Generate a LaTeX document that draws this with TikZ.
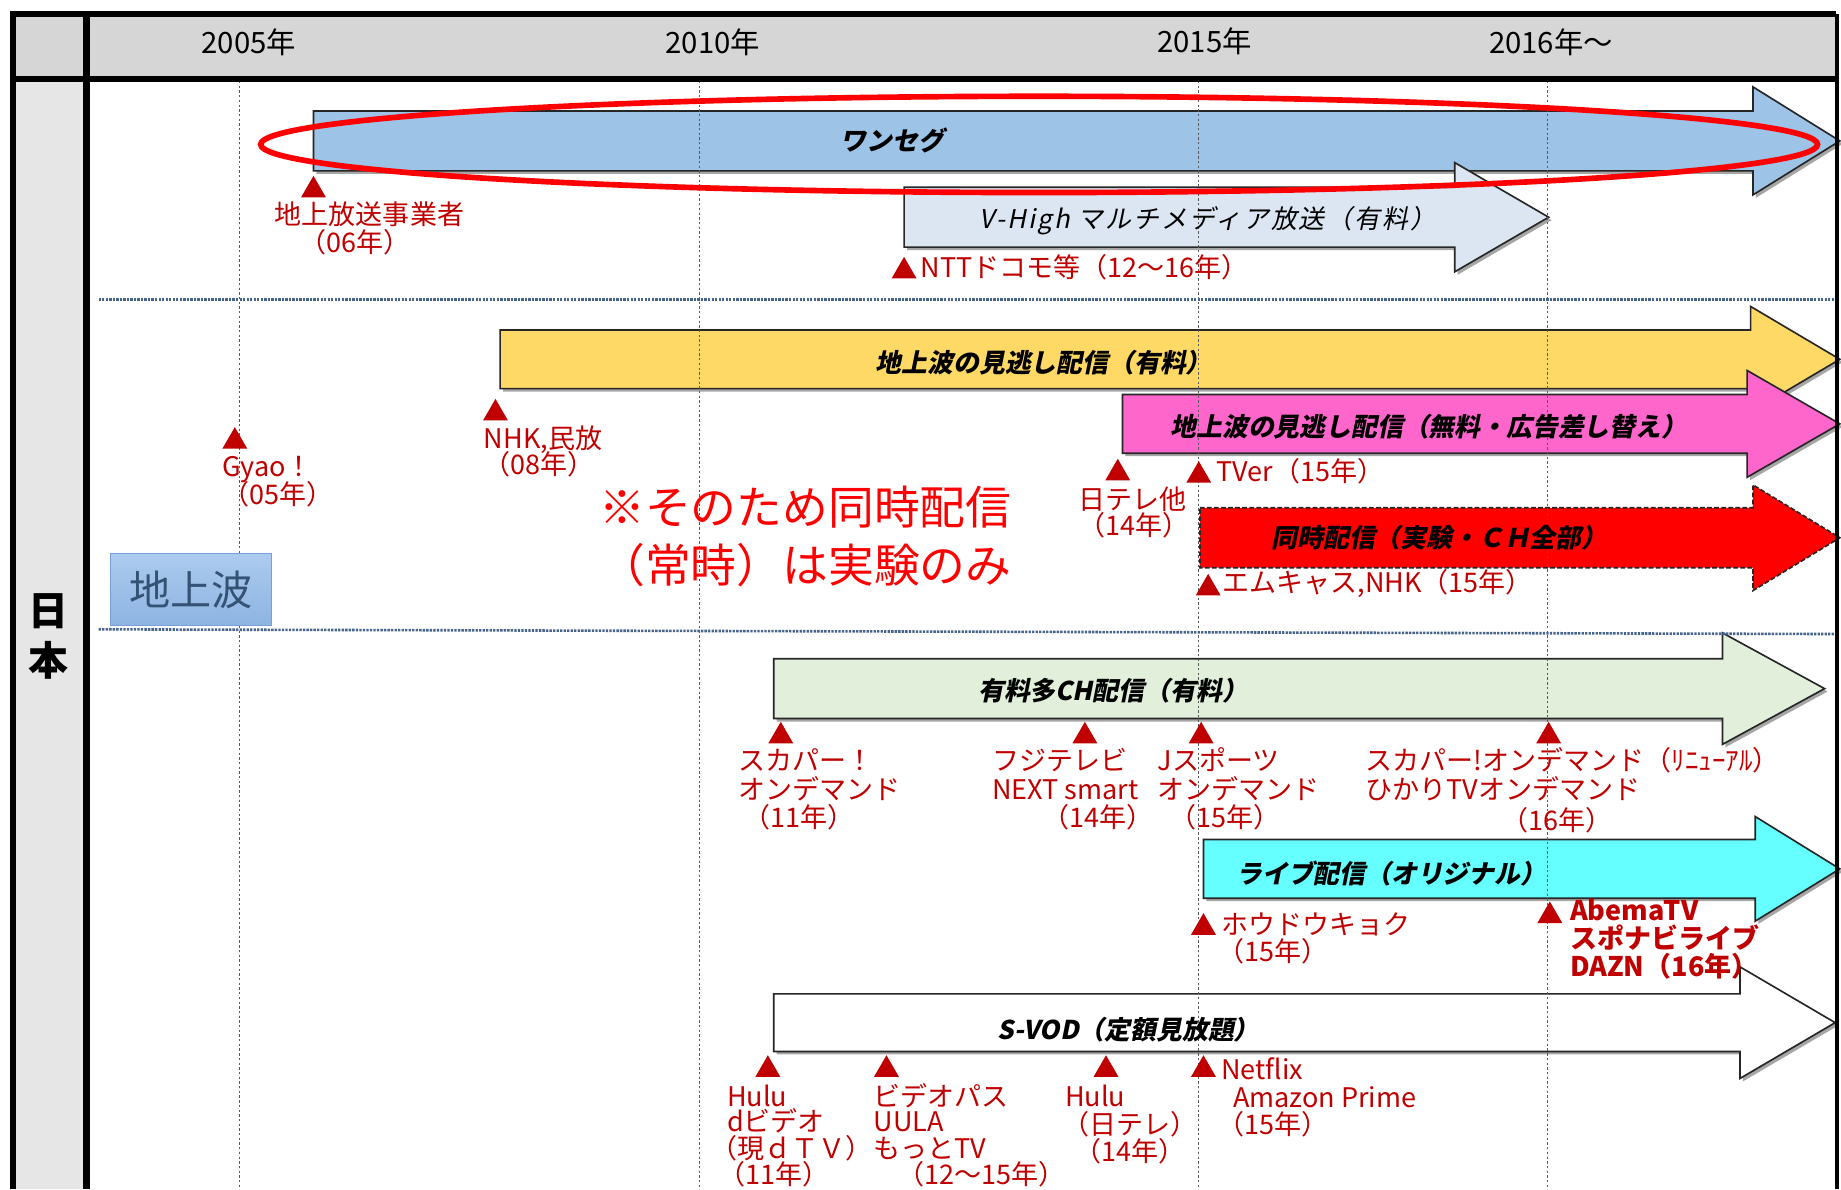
\documentclass[tikz,border=0pt]{standalone}
\usepackage{fontspec}
\setmainfont{Noto Sans CJK JP}
\newfontfamily\jpsl[FakeSlant=0.2]{Noto Sans CJK JP}
\usetikzlibrary{shapes.geometric}
\definecolor{lred}{RGB}{192,0,0}
\definecolor{hdr}{RGB}{214,214,214}
\definecolor{lcol}{RGB}{230,230,230}
\definecolor{cOne}{RGB}{157,195,230}
\definecolor{cVH}{RGB}{220,230,242}
\definecolor{cYel}{RGB}{255,217,102}
\definecolor{cPink}{RGB}{255,102,204}
\definecolor{cRed}{RGB}{255,0,0}
\definecolor{cGrn}{RGB}{226,239,218}
\definecolor{cCyan}{RGB}{102,255,255}
\definecolor{sepc}{RGB}{70,100,140}
\definecolor{boxtop}{RGB}{172,203,238}
\definecolor{boxbot}{RGB}{141,180,226}
\definecolor{boxbd}{RGB}{120,160,215}
\definecolor{boxtxt}{RGB}{52,82,115}
\newcommand\tlarrow[7]{%
  \begin{scope}[shift={(2.5,2.5)}]
    \fill[black!35] (#2,{#5-#6}) -- (#3,{#5-#6}) -- (#3,{#5-#7}) -- (#4,#5) -- (#3,{#5+#7}) -- (#3,{#5+#6}) -- (#2,{#5+#6}) -- cycle;
  \end{scope}
  \draw[arrbox,#1] (#2,{#5-#6}) -- (#3,{#5-#6}) -- (#3,{#5-#7}) -- (#4,#5) -- (#3,{#5+#7}) -- (#3,{#5+#6}) -- (#2,{#5+#6}) -- cycle;}
\tikzset{
  arrbox/.style={draw=black!85, line width=1.4pt, line join=miter},
  lab/.style={anchor=west, inner sep=0, text=lred, font=\fontsize{23}{25}\selectfont, text height=1.4em, text depth=0pt},
  labb/.style={lab, font=\bfseries\fontsize{23}{25}\selectfont},
  atext/.style={inner sep=0, font=\jpsl\bfseries\fontsize{22}{24}\selectfont},
  yr/.style={inner sep=0, font=\fontsize{25}{27}\selectfont},
  mk/.style={regular polygon, regular polygon sides=3, fill=lred, inner sep=0, minimum size=24.5pt},
  vdot/.style={black!65, line width=1pt, dash pattern=on 2pt off 2pt},
  hsep/.style={sepc, line width=2.2pt, dash pattern=on 2pt off 1pt},
}
\begin{document}
\begin{tikzpicture}[x=1pt,y=-1pt]
\useasboundingbox (0,0) rectangle (1568,1013);
\fill[white] (0,0) rectangle (1568,1013);
% table frame
\fill[hdr] (11,12) rectangle (1564,67);
\fill[lcol] (11,67) rectangle (73.5,1013);
% arrows
\tlarrow{fill=cOne}{267}{1493}{1567}{120}{25.5}{46}
\tlarrow{fill=cVH}{770}{1239}{1319}{185}{25.5}{46.5}
\tlarrow{fill=cYel}{426}{1491}{1567}{306}{25}{45}
\tlarrow{fill=cPink}{956}{1488}{1567}{361}{25}{45.5}
\draw[arrbox,fill=cRed,dash pattern=on 4pt off 2pt] (1022,432.5) -- (1493,432.5) -- (1493,413) -- (1567,458) -- (1493,503) -- (1493,483.5) -- (1022,483.5) -- cycle;
\tlarrow{fill=cGrn}{659}{1467}{1554}{586.5}{25.5}{47.5}
\tlarrow{fill=cCyan}{1025}{1495}{1567}{740}{25}{44.5}
\tlarrow{fill=white}{659}{1482}{1563}{871}{24.5}{47.5}
% grid lines
\foreach \gx in {204,596,1021,1318} \draw[vdot] (\gx,69) -- (\gx,1013);
\draw[hsep] (84,255) -- (1563,255);
\draw[hsep] (84,536) -- (1563,540);
% frame lines
\draw[line width=5pt] (11,1013) -- (11,12) -- (1564,12);
\draw[line width=4pt] (1564.5,12) -- (1564.5,1013);
\draw[line width=5.5pt] (11,67.5) -- (1564,67.5);
\draw[line width=5.5pt] (73.5,12) -- (73.5,1013);
% header
\node[yr] (y05) at (212,36) {2005年};
\node[yr] (y10) at (607,36) {2010年};
\node[yr] (y15) at (1026,35) {2015年};
\node[yr] (y16) at (1321,36) {2016年〜};
\node[inner sep=0, align=center, font=\bfseries\fontsize{34}{42}\selectfont] (jp) at (41,542) {日\\本};
% terrestrial box
\node[draw=boxbd, line width=1pt, top color=boxtop, bottom color=boxbot, minimum width=137pt, minimum height=61pt, inner sep=0, text=boxtxt, font=\fontsize{35}{37}\selectfont] (box) at (162.5,502) {地上波};
% arrow texts
\node[atext] (tOne) at (760,120) {ワンセグ};
\node[inner sep=0, font=\jpsl\fontsize{22}{24}\selectfont\addfontfeature{LetterSpace=8}] (tVH) at (1029,188) {V-High マルチメディア放送（有料）};
\node[atext] (tYel) at (889,309) {地上波の見逃し配信（有料）};
\node[atext] (tPink) at (1217,363) {地上波の見逃し配信（無料・広告差し替え）};
\node[atext] (tRed) at (1226,458) {同時配信（実験・ＣＨ全部）};
\node[atext] (tGrn) at (948,588) {有料多CH配信（有料）};
\node[atext] (tCyan) at (1185,744) {ライブ配信（オリジナル）};
\node[atext] (tSV) at (961,877) {S-VOD（定額見放題）};
% red ellipse
\draw[cRed, line width=4.8pt] (885,123) ellipse [x radius=663, y radius=41];
% note
\node[inner sep=0, align=center, text=cRed, font=\fontsize{39}{50}\selectfont] (note) at (686,457) {※そのため同時配信\\（常時）は実験のみ};
% markers
\node[mk] (m1) at (267,162) {};
\node[mk] (m2) at (770,231) {};
\node[mk] (m3) at (200,376) {};
\node[mk] (m4) at (422,352) {};
\node[mk] (m5) at (952,403) {};
\node[mk] (m6) at (1021,405) {};
\node[mk] (m7) at (1029,501) {};
\node[mk] (m8) at (665,627) {};
\node[mk] (m9) at (924,627) {};
\node[mk] (m10) at (1023,627) {};
\node[mk] (m11) at (1319,627) {};
\node[mk] (m12) at (1025,790) {};
\node[mk] (m13) at (1320,780) {};
\node[mk] (m14) at (654,911) {};
\node[mk] (m15) at (755,911) {};
\node[mk] (m16) at (942,911) {};
\node[mk] (m17) at (1025,911) {};
% labels
\node[lab] (l1a) at (234,184) {地上放送事業者};
\node[lab] (l1b) at (255,208) {（06年）};
\node[lab] (l2) at (784,229) {NTTドコモ等（12〜16年）};
\node[lab] (l3a) at (189,399) {Gyao！};
\node[lab] (l3b) at (189,423) {（05年）};
\node[lab] (l4a) at (412,375) {NHK,民放};
\node[lab] (l4b) at (412,397) {（08年）};
\node[lab] (l5a) at (918,427) {日テレ他};
\node[lab] (l5b) at (918,449) {（14年）};
\node[lab] (l6) at (1036,403) {TVer（15年）};
\node[lab] (l7) at (1041,498) {エムキャス,NHK（15年）};
\node[lab] (l8a) at (629,649) {スカパー！};
\node[lab] (l8b) at (629,674) {オンデマンド};
\node[lab] (l8c) at (633,698) {（11年）};
\node[lab] (l9a) at (845,649) {フジテレビ};
\node[lab] (l9b) at (845,674) {NEXT smart};
\node[lab] (l9c) at (888,698) {（14年）};
\node[lab] (l10a) at (986,649) {Jスポーツ};
\node[lab] (l10b) at (986,674) {オンデマンド};
\node[lab] (l10c) at (996,698) {（15年）};
\node[lab] (l11a) at (1163,649) {スカパー!オンデマンド（ﾘﾆｭｰｱﾙ）};
\node[lab] (l11b) at (1163,674) {ひかりTVオンデマンド};
\node[lab] (l11c) at (1279,700) {（16年）};
\node[lab] (l12a) at (1040,789) {ホウドウキョク};
\node[lab] (l12b) at (1037,812) {（15年）};
\node[labb] (l13a) at (1337,777) {AbemaTV};
\node[labb] (l13b) at (1337,801) {スポナビライブ};
\node[labb] (l13c) at (1337,825) {DAZN（16年）};
\node[lab] (l14a) at (619,935) {Hulu};
\node[lab] (l14b) at (619,957) {dビデオ};
\node[lab] (l14c) at (605,980) {（現ｄＴＶ）};
\node[lab] (l14d) at (612,1002) {（11年）};
\node[lab] (l15a) at (744,935) {ビデオパス};
\node[lab] (l15b) at (744,957) {UULA};
\node[lab] (l15c) at (744,980) {もっとTV};
\node[lab] (l15d) at (764,1002) {（12〜15年）};
\node[lab] (l16a) at (907,935) {Hulu};
\node[lab] (l16b) at (905,959) {（日テレ）};
\node[lab] (l16c) at (915,982) {（14年）};
\node[lab] (l17a) at (1040,912) {Netflix};
\node[lab] (l17b) at (1050,936) {Amazon Prime};
\node[lab] (l17c) at (1037,959) {（15年）};
\end{tikzpicture}
\end{document}
